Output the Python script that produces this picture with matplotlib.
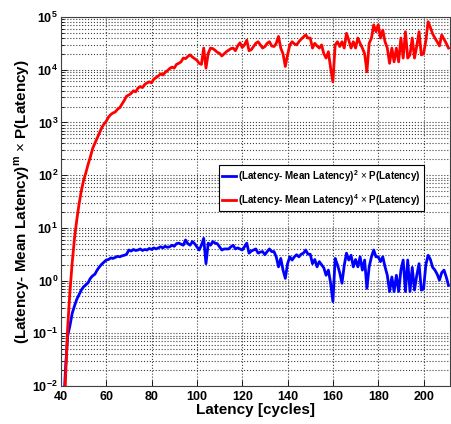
import numpy as np
import matplotlib
matplotlib.use("Agg")
import matplotlib.pyplot as plt
from matplotlib.ticker import LogLocator, FuncFormatter, MultipleLocator, NullFormatter

plt.rcParams['font.family'] = ['Liberation Sans', 'DejaVu Sans']
plt.rcParams['mathtext.fontset'] = 'custom'
plt.rcParams['mathtext.rm'] = 'Liberation Sans'
plt.rcParams['mathtext.bf'] = 'Liberation Sans:bold'

# latency in cycles, 41..211
latency = np.arange(41, 212)

# (Latency - Mean Latency)^2 x P(Latency)
second_moment = [
    2.5e-3, 2.0e-2, 8.9e-2, 1.4e-1, 2.4e-1, 3.3e-1, 4.4e-1, 5.4e-1, 6.6e-1, 7.6e-1,
    8.3e-1, 9.1e-1, 1.10, 1.23, 1.32, 1.58, 1.82, 2.04, 2.24, 2.45,
    2.51, 2.69, 2.63, 2.75, 2.88, 2.82, 2.95, 3.02, 3.16, 3.80,
    3.63, 3.89, 3.72, 3.80, 3.98, 3.72, 3.89, 3.80, 4.07, 3.89,
    4.17, 3.98, 4.17, 4.37, 4.17, 4.47, 4.27, 4.37, 4.68, 4.47,
    5.01, 5.13, 4.90, 4.68, 5.89, 5.01, 4.68, 5.50, 5.01, 4.37,
    3.80, 4.68, 6.31, 2.09, 5.13, 4.68, 5.50, 5.13, 5.01, 4.37,
    3.80, 3.98, 3.98, 3.98, 4.37, 4.68, 3.98, 4.17, 3.98, 3.80,
    4.37, 5.13, 3.31, 3.63, 3.80, 3.98, 3.31, 3.47, 3.55, 3.09,
    3.55, 3.98, 3.55, 3.55, 2.82, 1.82, 2.63, 1.58, 1.10, 2.09,
    2.82, 2.45, 2.82, 3.09, 2.82, 3.16, 3.31, 3.80, 3.16, 3.16,
    2.09, 2.51, 1.82, 2.29, 2.00, 1.74, 1.26, 1.58, 8.9e-1, 4.0e-1,
    2.63, 2.00, 1.41, 8.9e-1, 1.95, 3.31, 2.45, 3.02, 1.82, 2.51,
    1.82, 2.82, 1.58, 2.45, 7.1e-1, 1.82, 2.82, 3.80, 2.82, 2.82,
    2.29, 2.82, 1.82, 1.26, 6.2e-1, 1.17, 6.2e-1, 1.26, 6.2e-1, 1.58,
    2.45, 6.2e-1, 2.45, 6.2e-1, 1.78, 6.6e-1, 1.26, 2.09, 6.6e-1, 6.9e-1,
    2.00, 3.02, 2.51, 1.78, 1.58, 1.32, 1.02, 1.41, 1.58, 1.17,
    8.1e-1,
]

# (Latency - Mean Latency)^4 x P(Latency)
fourth_moment = [
    3.2e-4, 1.3e-2, 1.3e-1, 6.3e-1, 2.2, 6.3, 1.4e1, 2.8e1, 5.0e1, 7.9e1,
    1.1e2, 1.6e2, 2.2e2, 3.2e2, 4.0e2, 5.0e2, 6.3e2, 7.9e2, 9.3e2, 1.05e3,
    1.26e3, 1.41e3, 1.51e3, 1.58e3, 1.78e3, 1.91e3, 2.24e3, 2.63e3, 3.16e3, 3.31e3,
    3.55e3, 3.98e3, 3.80e3, 4.47e3, 4.79e3, 4.57e3, 5.25e3, 5.62e3, 5.89e3, 5.62e3,
    6.61e3, 7.08e3, 7.59e3, 8.32e3, 7.94e3, 8.91e3, 9.55e3, 1.05e4, 1.12e4, 1.07e4,
    1.26e4, 1.32e4, 1.41e4, 1.66e4, 1.62e4, 1.78e4, 1.91e4, 1.74e4, 1.62e4, 1.51e4,
    1.32e4, 1.26e4, 2.57e4, 1.07e4, 2.04e4, 2.57e4, 2.51e4, 2.34e4, 2.14e4, 2.04e4,
    1.82e4, 2.00e4, 2.19e4, 2.34e4, 2.51e4, 2.57e4, 2.29e4, 2.82e4, 3.24e4, 2.63e4,
    2.95e4, 3.63e4, 2.29e4, 2.40e4, 2.75e4, 3.16e4, 3.39e4, 2.95e4, 2.57e4, 2.75e4,
    3.16e4, 3.39e4, 2.82e4, 2.75e4, 3.16e4, 4.27e4, 2.57e4, 2.00e4, 1.15e4, 1.91e4,
    2.95e4, 3.39e4, 3.09e4, 2.95e4, 3.39e4, 3.80e4, 4.17e4, 4.57e4, 3.98e4, 3.98e4,
    2.57e4, 3.16e4, 2.82e4, 2.57e4, 2.95e4, 2.00e4, 1.66e4, 2.19e4, 1.07e4, 5.89e3,
    2.95e4, 3.39e4, 2.75e4, 3.39e4, 2.57e4, 4.90e4, 3.63e4, 2.57e4, 3.39e4, 2.57e4,
    3.98e4, 3.16e4, 2.57e4, 2.00e4, 9.12e3, 3.16e4, 3.98e4, 7.08e4, 5.25e4, 7.08e4,
    3.98e4, 5.62e4, 3.39e4, 2.57e4, 1.32e4, 2.57e4, 1.41e4, 2.57e4, 1.41e4, 3.98e4,
    1.66e4, 5.25e4, 1.66e4, 1.91e4, 3.98e4, 1.66e4, 2.82e4, 5.25e4, 1.91e4, 2.00e4,
    3.55e4, 8.13e4, 6.31e4, 4.79e4, 3.98e4, 3.39e4, 2.82e4, 4.57e4, 3.80e4, 3.16e4,
    2.57e4,
]

labels = [
    r'(Latency- Mean Latency)$^{\mathbf{2}}$ $\times$ P(Latency)',
    r'(Latency- Mean Latency)$^{\mathbf{4}}$ $\times$ P(Latency)',
]

fig = plt.figure(figsize=(4.51, 4.24), dpi=100)
ax = fig.add_axes([0.135, 0.0896, 0.862, 0.8704])

ax.semilogy(latency, second_moment, color='#0000ff', lw=2.0, label=labels[0])
ax.semilogy(latency, fourth_moment, color='#ff0000', lw=2.0, label=labels[1])

ax.set_xlim(40, 211.5)
ax.set_ylim(1e-2, 1e5)
ax.xaxis.set_major_locator(MultipleLocator(20))
ax.yaxis.set_major_locator(LogLocator(base=10, numticks=10))
ax.yaxis.set_minor_locator(LogLocator(base=10, subs=np.arange(2, 10), numticks=20))
ax.yaxis.set_minor_formatter(NullFormatter())
ax.yaxis.set_major_formatter(FuncFormatter(lambda v, p: r'$\mathbf{10^{%d}}$' % round(np.log10(v))))

ax.grid(True, which='major', axis='both', ls=':', color='#404040', lw=0.8)
ax.grid(True, which='minor', axis='y', ls=':', color='#404040', lw=0.8)
ax.tick_params(which='both', direction='in', labelsize=9, width=0.6)
ax.tick_params(axis='y', pad=2)
ax.tick_params(which='major', length=4)
ax.tick_params(which='minor', length=2)
for lab in ax.get_xticklabels():
    lab.set_fontweight('bold')
for s in ax.spines.values():
    s.set_color('#404040')
    s.set_linewidth(0.8)

ax.set_xlabel('Latency [cycles]', fontsize=11, fontweight='bold', labelpad=0)
ax.set_ylabel(r'(Latency- Mean Latency)$^{\mathbf{m}}$ $\times$ P(Latency)',
              fontsize=11, fontweight='bold', va='center')
ax.yaxis.set_label_coords(-0.1, 0.5)

leg = ax.legend(loc='upper right', bbox_to_anchor=(0.935, 0.6),
                prop={'weight': 'bold', 'size': 7.1}, fancybox=False,
                framealpha=1, edgecolor='black', borderpad=0.35,
                handlelength=1.4, handletextpad=0.2, labelspacing=0.8,
                borderaxespad=0)
leg.get_frame().set_linewidth(0.8)

fig.savefig('out.png', dpi=100)
